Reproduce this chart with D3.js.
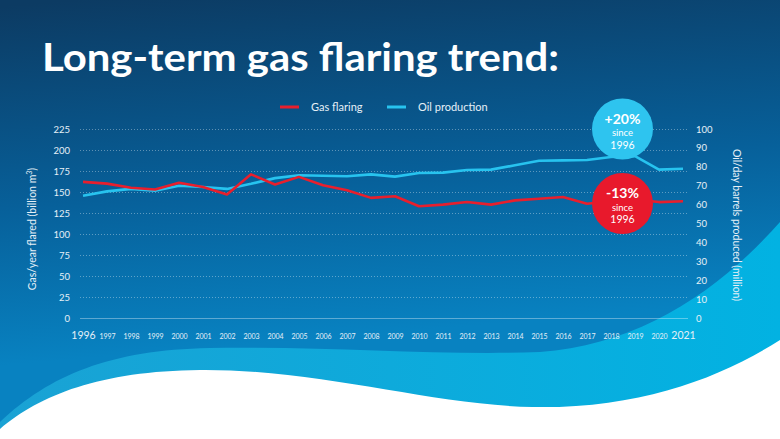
<!DOCTYPE html>
<meta charset="utf-8">
<script src="https://d3js.org/d3.v7.min.js"></script>
<style>
  body { margin: 0; background: #fff; }
  text { font-family: Lato, "Open Sans", sans-serif; }
</style>
<div id="chart"></div>
<script>

// data
var years = d3.range(1996, 2022)
var gasFlaring = [162, 160, 155, 153, 161, 156, 147, 171, 159, 168, 158, 152, 143, 145,
                  133, 135, 138, 135, 140, 142, 144, 136, 139, 141, 138, 139]
var oilProduction = [64.7, 67, 68.3, 67.3, 70, 69.3, 68.3, 71, 74, 75.5, 75.3, 75, 76, 74.8,
                     76.7, 76.9, 78.3, 78.5, 80.8, 83.2, 83.4, 83.6, 85.2, 85.7, 78.5, 79]
var leftTicks = [0, 25, 50, 75, 100, 125, 150, 175, 200, 225]
var rightTicks = [0, 10, 20, 30, 40, 50, 60, 70, 80, 90, 100]
var seriesNames = ["Gas flaring", "Oil production"]
var badges = [{top: "+20%", year: 1996}, {top: "-13%", year: 1996}]

var width = 780, height = 439
var plot = {left: 83, right: 683, top: 129, bottom: 318}
var red = "#e81f2d", blue = "#27c3ef"

var svg = d3.select("#chart").append("svg")
    .attr("width", width)
    .attr("height", height)

// background
var defs = svg.append("defs")
var bg = defs.append("linearGradient").attr("id", "bg")
    .attr("x1", 0.1).attr("y1", 0).attr("x2", 0.25).attr("y2", 1)
bg.append("stop").attr("offset", 0).attr("stop-color", "#0c3b63")
bg.append("stop").attr("offset", 0.45).attr("stop-color", "#07609a")
bg.append("stop").attr("offset", 0.8).attr("stop-color", "#0882c1")
var light = defs.append("linearGradient").attr("id", "light")
    .attr("x1", 0).attr("y1", 0).attr("x2", 1).attr("y2", 0)
light.append("stop").attr("offset", 0).attr("stop-color", "#1aa2d4")
light.append("stop").attr("offset", 1).attr("stop-color", "#02b2e2")

svg.append("rect").attr("width", width).attr("height", height).attr("fill", "url(#bg)")
svg.append("path")
    .attr("fill", "url(#light)")
    .attr("d", "M0,422 C50,375 110,350 210,348 C330,346 440,356 540,352 C640,345 720,290 780,222 L780,439 L0,439 Z")
svg.append("path")
    .attr("fill", "#ffffff")
    .attr("d", "M0,429 C40,395 100,371 200,370 C320,369 430,405 532,407 C640,409 720,378 780,340 L780,439 L0,439 Z")

// title
svg.append("text")
    .attr("x", 42).attr("y", 71)
    .attr("fill", "#fff")
    .attr("font-size", 39)
    .attr("font-weight", 700)
    .attr("textLength", 517)
    .attr("lengthAdjust", "spacingAndGlyphs")
    .text("Long-term gas flaring trend:")

// scales
var x = d3.scaleLinear().domain([1996, 2021]).range([plot.left, plot.right])
var yL = d3.scaleLinear().domain([0, 225]).range([plot.bottom, plot.top])
var yR = d3.scaleLinear().domain([0, 100]).range([plot.bottom, plot.top])

// grid from left axis
var grid = svg.append("g")
    .attr("transform", "translate(" + (plot.left - 3) + ",0)")
    .call(d3.axisLeft(yL).tickValues(leftTicks).tickSize(-(688 - plot.left + 3)).tickFormat(""))
grid.select(".domain").remove()
grid.selectAll(".tick line")
    .attr("stroke", "#ffffff")
    .attr("stroke-opacity", 0.35)
    .attr("stroke-width", 1)
    .attr("stroke-dasharray", function(d) { return d === 0 ? null : "1,2"; })

// left axis labels
var axL = svg.append("g")
    .attr("transform", "translate(" + (plot.left - 10) + ",0)")
    .call(d3.axisLeft(yL).tickValues(leftTicks).tickSize(0))
axL.select(".domain").remove()
axL.selectAll("text").attr("fill", "#e6f0f7").attr("font-size", 9.5).attr("font-family", "Lato, sans-serif")

// right axis labels
var axR = svg.append("g")
    .attr("transform", "translate(" + 693 + ",0)")
    .call(d3.axisRight(yR).tickValues(rightTicks).tickSize(0))
axR.select(".domain").remove()
axR.selectAll("text").attr("fill", "#e6f0f7").attr("font-size", 9.5).attr("font-family", "Lato, sans-serif")

// x axis labels
var axX = svg.append("g")
    .attr("transform", "translate(0," + (plot.bottom + 11) + ")")
    .call(d3.axisBottom(x).tickValues(years).tickSize(0).tickFormat(d3.format("d")))
axX.select(".domain").remove()
axX.selectAll("text")
    .attr("fill", "#e6f0f7")
    .attr("font-family", "Lato, sans-serif")
    .attr("font-size", function(d) { return (d === 1996 || d === 2021) ? 10.5 : 7; })
    .attr("dy", function(d) { return (d === 1996 || d === 2021) ? "0.71em" : "0.95em"; })

// axis titles
svg.append("text")
    .attr("transform", "translate(36,229) rotate(-90)")
    .attr("text-anchor", "middle")
    .attr("fill", "#e6f0f7")
    .attr("font-size", 10.5)
    .html("Gas/year flared (billion m<tspan dy='-4' font-size='7'>3</tspan><tspan dy='4'>)</tspan>")
svg.append("text")
    .attr("transform", "translate(733,225) rotate(90)")
    .attr("text-anchor", "middle")
    .attr("fill", "#e6f0f7")
    .attr("font-size", 10.5)
    .text("Oil/day barrels produced (million)")

// lines
var lineL = d3.line().x(function(d, i) { return x(years[i]); }).y(function(d) { return yL(d); })
var lineR = d3.line().x(function(d, i) { return x(years[i]); }).y(function(d) { return yR(d); })

svg.append("path").datum(oilProduction)
    .attr("fill", "none").attr("stroke", blue).attr("stroke-width", 2.6)
    .attr("stroke-linejoin", "round")
    .attr("d", lineR)
svg.append("path").datum(gasFlaring)
    .attr("fill", "none").attr("stroke", red).attr("stroke-width", 2.6)
    .attr("stroke-linejoin", "round")
    .attr("d", lineL)

// legend
var legend = svg.append("g").attr("transform", "translate(280,107)")
seriesNames.forEach(function(name, i) {
    var g = legend.append("g").attr("transform", "translate(" + (i * 107) + ",0)")
    g.append("line").attr("x1", 0).attr("x2", 19)
        .attr("stroke", i === 0 ? red : blue).attr("stroke-width", 3)
    g.append("text").attr("x", 31).attr("y", 4)
        .attr("fill", "#e6f0f7").attr("font-size", 11).text(name)
})

// badges
var badgeY = [129, 203.5]
badges.forEach(function(b, i) {
    var g = svg.append("g").attr("transform", "translate(622.5," + badgeY[i] + ")")
    g.append("circle").attr("r", 30.5).attr("fill", i === 0 ? "#2ec4ef" : "#e8192c")
    g.append("text").attr("y", -5.5).attr("text-anchor", "middle")
        .attr("fill", "#fff").attr("font-size", 14).attr("font-weight", 700).text(b.top)
    g.append("text").attr("y", 7).attr("text-anchor", "middle")
        .attr("fill", "#fff").attr("font-size", 9.5).text("since")
    g.append("text").attr("y", 19.5).attr("text-anchor", "middle")
        .attr("fill", "#fff").attr("font-size", 10.5).text(b.year)
})

</script>
